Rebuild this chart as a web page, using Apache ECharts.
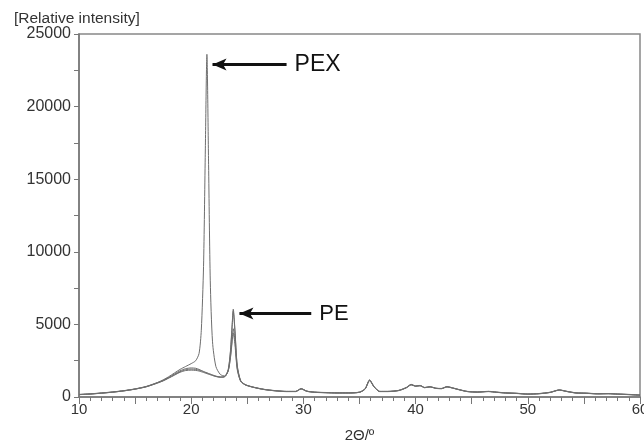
<!DOCTYPE html>
<html>
<head>
<meta charset="utf-8">
<script src="https://cdn.jsdelivr.net/npm/echarts@6/dist/echarts.min.js"></script>
<style>html,body{margin:0;padding:0;background:#fff}#c{width:644px;height:442px}</style>
</head>
<body>
<div id="c"></div>
<script>
var twoTheta = [10, 11, 12, 13, 14, 15, 16, 17, 17.5, 18, 18.5, 19, 19.5, 20, 20.4, 20.7, 20.9, 21.1, 21.25, 21.4, 21.55, 21.7, 21.9, 22.2, 22.6, 23.0, 23.3, 23.5, 23.65, 23.75, 23.9, 24.1, 24.4, 24.8, 25.5, 26.5, 27.5, 28.5, 29.3, 29.8, 30.3, 31, 32, 33, 34, 35, 35.5, 35.9, 36.3, 36.8, 37.5, 38.5, 39.2, 39.6, 40.0, 40.4, 40.8, 41.3, 41.8, 42.3, 42.8, 43.3, 43.9, 44.6, 45.5, 46.5, 47.2, 48, 49, 50, 51, 52, 52.8, 53.5, 54.3, 55.2, 56.2, 57.2, 58, 59, 60];

var intensityPEX = [180, 220, 280, 350, 440, 560, 730, 1000, 1180, 1400, 1650, 1900, 2100, 2300, 2500, 3000, 4600, 9000, 16500, 23600, 16000, 8000, 3800, 2100, 1550, 1450, 1800, 2700, 3800, 4400, 3600, 1900, 1100, 850, 680, 520, 430, 380, 380, 560, 400, 330, 300, 280, 280, 330, 550, 1150, 700, 380, 380, 450, 650, 850, 750, 780, 650, 700, 600, 580, 700, 620, 500, 380, 340, 380, 330, 280, 250, 200, 230, 320, 480, 380, 280, 260, 220, 230, 200, 170, 130];

var intensityPE1 = [170, 210, 270, 340, 430, 550, 720, 990, 1150, 1350, 1580, 1800, 1950, 2000, 1980, 1900, 1830, 1760, 1710, 1670, 1620, 1580, 1520, 1440, 1380, 1420, 1900, 3200, 5000, 6050, 4600, 2200, 1150, 860, 690, 530, 440, 390, 390, 580, 410, 340, 310, 290, 290, 340, 570, 1180, 720, 390, 390, 460, 670, 870, 760, 800, 660, 710, 610, 590, 720, 630, 510, 390, 350, 390, 340, 290, 260, 210, 240, 330, 490, 390, 290, 270, 230, 240, 210, 180, 140];

var intensityPE2 = [160, 200, 260, 330, 420, 540, 700, 960, 1110, 1300, 1500, 1700, 1820, 1850, 1830, 1790, 1740, 1690, 1650, 1610, 1570, 1530, 1480, 1410, 1360, 1400, 1850, 3100, 4850, 5900, 4500, 2150, 1120, 840, 670, 510, 420, 370, 370, 550, 390, 320, 290, 270, 270, 320, 540, 1120, 690, 370, 370, 440, 640, 830, 740, 770, 640, 690, 590, 570, 690, 610, 490, 370, 330, 370, 320, 270, 240, 190, 220, 310, 470, 370, 270, 250, 210, 220, 190, 160, 120];

var intensityPE3 = [165, 205, 265, 335, 425, 545, 710, 970, 1120, 1320, 1530, 1740, 1880, 1920, 1900, 1850, 1800, 1740, 1690, 1650, 1600, 1560, 1500, 1420, 1370, 1410, 1800, 2800, 4000, 4700, 3900, 2000, 1100, 850, 680, 520, 430, 380, 380, 570, 400, 330, 300, 280, 280, 330, 560, 1160, 710, 380, 380, 450, 660, 860, 750, 790, 650, 700, 600, 580, 710, 620, 500, 380, 340, 380, 330, 280, 250, 200, 230, 320, 480, 380, 280, 260, 220, 230, 200, 170, 130];

var seriesNames = ['PEX', 'PE 1', 'PE 2', 'PE 3'];
var seriesValues = [intensityPEX, intensityPE1, intensityPE2, intensityPE3];

var xTickLabels = ['10', '20', '30', '40', '50', '60'];
var yTickLabels = ['0', '5000', '10000', '15000', '20000', '25000'];

function pairs(ys) {
  return twoTheta.map(function (x, i) { return [x, ys[i]]; });
}

var font = 'Liberation Sans, Arial, sans-serif';
var series = seriesValues.map(function (ys, k) {
  var s = {
    name: seriesNames[k],
    type: 'line',
    data: pairs(ys),
    showSymbol: false,
    symbol: 'none',
    smooth: 0.25,
    lineStyle: { color: '#6e6e6e', width: 1 },
    animation: false,
    z: 2
  };
  if (k === 0) {
    s.markLine = {
      silent: true,
      animation: false,
      symbol: ['arrow', 'none'],
      symbolSize: [9, 14],
      lineStyle: { color: '#111', width: 3, type: 'solid' },
      label: { show: true, position: 'end', distance: 8, color: '#111', fontFamily: font },
      data: [
        [{ coord: [21.9, 22900], label: { formatter: 'PEX', fontSize: 23 } }, { coord: [28.5, 22900] }],
        [{ coord: [24.3, 5750], label: { formatter: 'PE', fontSize: 22 } }, { coord: [30.7, 5750] }]
      ]
    };
  }
  return s;
});

var chart = echarts.init(document.getElementById('c'), null, { renderer: 'canvas' });
chart.setOption({
  backgroundColor: '#fff',
  animation: false,
  title: {
    text: '[Relative intensity]',
    left: 9, top: 6,
    textStyle: { fontSize: 15.5, fontWeight: 'normal', color: '#333', fontFamily: font }
  },
  grid: {
    left: 79, right: 4, top: 34, bottom: 45,
    outerBoundsMode: 'none',
    containLabel: false,
    show: true, borderColor: '#888', borderWidth: 1.5
  },
  xAxis: {
    type: 'value',
    min: 10, max: 60, interval: 5,
    name: '2Θ/º',
    nameLocation: 'middle',
    nameGap: 31,
    nameTextStyle: { fontSize: 15, color: '#333', fontFamily: font },
    axisLine: { lineStyle: { color: '#777', width: 1.5 } },
    axisTick: { show: true, length: 7, lineStyle: { color: '#777' } },
    minorTick: { show: true, splitNumber: 5, length: 4, lineStyle: { color: '#777' } },
    splitLine: { show: false },
    axisLabel: {
      fontSize: 15, color: '#333', fontFamily: font, margin: 5,
      formatter: function (v) {
        var s = String(v);
        return xTickLabels.indexOf(s) >= 0 ? s : '';
      }
    }
  },
  yAxis: {
    type: 'value',
    min: 0, max: 25000, interval: 5000,
    axisLine: { show: true, lineStyle: { color: '#777', width: 1.5 } },
    axisTick: { show: true, length: 5, lineStyle: { color: '#777' } },
    minorTick: { show: true, splitNumber: 2, length: 5, lineStyle: { color: '#777' } },
    splitLine: { show: false },
    axisLabel: {
      fontSize: 16, color: '#333', fontFamily: font, margin: 8,
      formatter: function (v) {
        var s = String(v);
        return yTickLabels.indexOf(s) >= 0 ? s : '';
      }
    }
  },
  series: series
});
</script>
</body>
</html>
